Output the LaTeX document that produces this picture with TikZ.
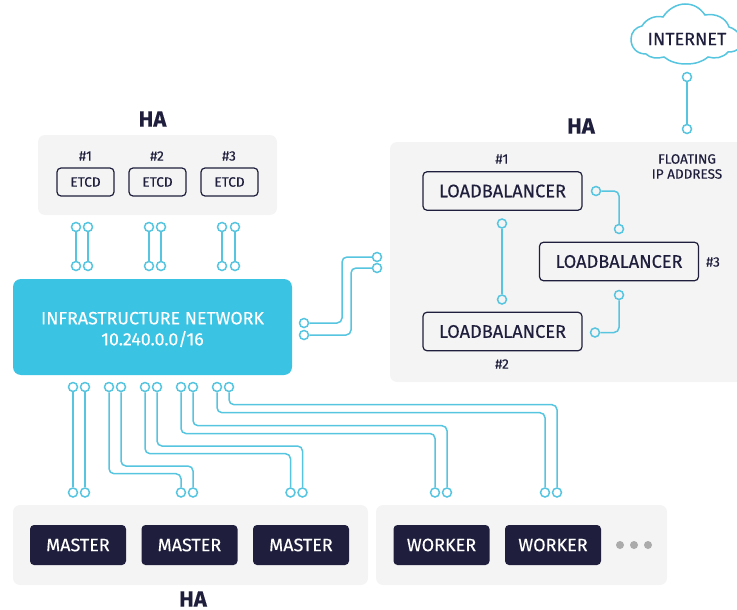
\documentclass[tikz,border=0pt]{standalone}
\usepackage{fontspec}
\setmainfont{Fira Sans}[FakeBold=0.25]
\definecolor{ink}{HTML}{1F1F3D}
\definecolor{wire}{HTML}{56C5DF}
\definecolor{sky}{HTML}{3BC3E3}
\definecolor{pane}{HTML}{F4F4F4}
\definecolor{dotgrey}{HTML}{ABABAB}
\tikzset{
  panel/.style={fill=pane,rounded corners=7pt},
  port/.style={circle,draw=wire,line width=1.5pt,inner sep=0pt,minimum size=9pt},
  wirepath/.style={draw=wire,line width=1.5pt,rounded corners=5pt},
  outlinebox/.style={draw=ink,line width=1.2pt,rounded corners=4pt,inner sep=0pt,text=ink},
  solidbox/.style={fill=ink,rounded corners=4pt,inner sep=0pt,text=white,minimum width=96pt,minimum height=40pt,font=\fontsize{18}{20}\selectfont},
  etcdbox/.style={outlinebox,minimum width=57pt,minimum height=28pt,font=\fontsize{13.6}{15}\selectfont},
  lbbox/.style={outlinebox,minimum width=159pt,minimum height=38.5pt,font=\fontsize{18.2}{20}\selectfont},
  tag/.style={text=ink,font=\fontsize{13.6}{15}\selectfont},
  head/.style={text=ink,inner sep=0pt,font=\fontsize{22}{24}\selectfont\bfseries},
}
\begin{document}
\begin{tikzpicture}[x=1pt,y=-1pt]
\useasboundingbox (0,0) rectangle (737,610);
% panels
\fill[panel] (38,135) rectangle (277,215);
\fill[panel] (390,142) rectangle (760,382);
\fill[panel] (13,505) rectangle (368,585);
\fill[panel] (376,505) rectangle (667,585);
\node[fill=sky,rounded corners=8pt,minimum width=279pt,minimum height=96pt,inner sep=0pt] (net) at (152.5,327) {};
\node[text=white,align=center,font=\fontsize{17.8}{21}\selectfont] (nettext) at (152.5,329.5) {INFRASTRUCTURE NETWORK\\10.240.0.0/16};
% headings
\node[head] (ha1) at (152.5,119) {HA};
\node[head] (ha2) at (581,126) {HA};
\node[head] (ha3) at (193,599) {HA};
% etcd
\node[etcdbox] (e1) at (85.5,182) {ETCD};
\node[etcdbox] (e2) at (157.5,182) {ETCD};
\node[etcdbox] (e3) at (229.5,182) {ETCD};
\node[tag] (n1) at (85.5,156) {\#1};
\node[tag] (n2) at (157,156) {\#2};
\node[tag] (n3) at (229,156) {\#3};
% load balancers
\node[lbbox] (lb1) at (502.5,191) {LOADBALANCER};
\node[lbbox] (lb2) at (502.5,331.5) {LOADBALANCER};
\node[lbbox] (lb3) at (619,261.5) {LOADBALANCER};
\node[tag] (l1) at (502,159) {\#1};
\node[tag] (l2) at (502,364) {\#2};
\node[tag] (l3) at (713,262) {\#3};
\node[text=ink,align=center,font=\fontsize{13.5}{15}\selectfont] (fip) at (687,166.5) {FLOATING\\IP ADDRESS};
% masters, workers
\node[solidbox] (m1) at (78,545) {MASTER};
\node[solidbox] (m2) at (189.5,545) {MASTER};
\node[solidbox] (m3) at (301,545) {MASTER};
\node[solidbox] (w1) at (441.5,545) {WORKER};
\node[solidbox] (w2) at (553,545) {WORKER};
\fill[dotgrey] (620,545) circle (4) (634,545) circle (4) (648,545) circle (4);
% cloud
\draw[wire,line width=1.5pt,fill=white] (646,54) .. controls (636,54) and (631,47) .. (631,39)
  .. controls (631,32) and (636,27) .. (642,26)
  .. controls (646,19) and (655,15) .. (663,17)
  .. controls (668,9) and (677,4) .. (685,4)
  .. controls (694,4) and (700,8) .. (705,15)
  .. controls (716,13) and (726,18) .. (729,27)
  .. controls (733,28) and (737,31) .. (740,35)
  -- (740,47)
  .. controls (737,51) and (733,52) .. (728,52)
  .. controls (723,58) and (715,59) .. (708,57)
  .. controls (702,62) and (695,64) .. (686,64)
  .. controls (678,64) and (670,62) .. (664,57)
  .. controls (657,59) and (650,58) .. (646,54) -- cycle;
\node[text=ink,font=\fontsize{18}{20}\selectfont] (inet) at (687,39) {INTERNET};
% ports and wires
\foreach \nm/\px/\py in {
 a1/76/227,a2/88/227,a3/76/266,a4/88/266,
 b1/149/227,b2/161/227,b3/149/266,b4/161/266,
 c1/222/227,c2/235/227,c3/222/266,c4/235/266,
 r1/304/323,r2/304/335,r3/377/257,r4/377/268,
 i1/687/77,i2/687/129,
 q1/502/223.5,q2/502/299.5,
 s1/596/191,s2/619/229,
 u1/595/332.5,u2/619/295,
 t1/73/387,t2/85/387,t3/109/387,t4/121/387,t5/145/387,t6/157/387,
 t7/181/387,t8/193/387,t9/217/387,t10/229/387,
 d1/73/492.5,d2/85/492.5,d3/181/492.5,d4/193/492.5,d5/290.5/492.5,d6/302.5/492.5,
 d7/435/492.5,d8/447/492.5,d9/545/492.5,d10/557/492.5}{
  \node[port] (\nm) at (\px,\py) {};
}
\foreach \p/\q in {a1/a3,a2/a4,b1/b3,b2/b4,c1/c3,c2/c4,i1/i2,q1/q2,t1/d1,t2/d2}{
  \draw[wirepath] (\p) -- (\q);
}
\foreach \p/\q/\h in {t3/d3/473.7,t4/d4/466,t5/d5/453.7,t6/d6/446,t7/d7/433.5,t8/d8/425.7,t9/d9/412.7,t10/d10/404.7}{
  \draw[wirepath] (\p.south) -- (\p.south |- 0,\h) -- (\q.north |- 0,\h) -- (\q.north);
}
\draw[wirepath] (r1.east) -- (342,323) -- (342,257) -- (r3.west);
\draw[wirepath] (r2.east) -- (351,335) -- (351,268) -- (r4.west);
\draw[wirepath] (s1.east) -| (s2.north);
\draw[wirepath] (u1.east) -| (u2.south);
\end{tikzpicture}
\end{document}
